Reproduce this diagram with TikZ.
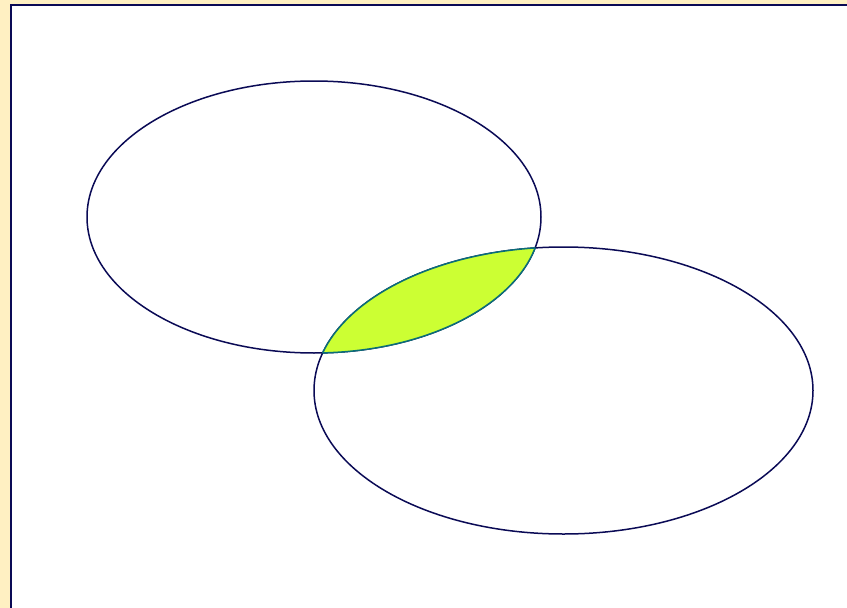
\documentclass[tikz,border=0pt]{standalone}
\definecolor{cream}{HTML}{FFF0C2}
\definecolor{navy}{HTML}{0A0A55}
\definecolor{lime}{HTML}{CCFF33}
\definecolor{tealline}{HTML}{0A6E78}
\begin{document}
\begin{tikzpicture}[x=1pt,y=-1pt,
  outline/.style={draw=navy,line width=1.5pt},
  lensline/.style={draw=tealline,line width=1.5pt}]
\useasboundingbox (0,0) rectangle (847,608);
\fill[cream] (0,0) rectangle (847,608);
\fill[white] (11,5) rectangle (847,608);
\draw[navy,line width=2pt] (11,608) -- (11,5) -- (847,5);
\coordinate (c1) at (314,217);
\coordinate (c2) at (563.5,390.5);
\draw[outline] (c1) ellipse [x radius=227, y radius=136];
\draw[outline] (c2) ellipse [x radius=249.5, y radius=143.5];
\begin{scope}
  \clip (c1) ellipse [x radius=227, y radius=136];
  \fill[lime] (c2) ellipse [x radius=249.5, y radius=143.5];
  \draw[lensline] (c2) ellipse [x radius=249.5, y radius=143.5];
\end{scope}
\begin{scope}
  \clip (c2) ellipse [x radius=249.5, y radius=143.5];
  \draw[lensline] (c1) ellipse [x radius=227, y radius=136];
\end{scope}
\end{tikzpicture}
\end{document}
